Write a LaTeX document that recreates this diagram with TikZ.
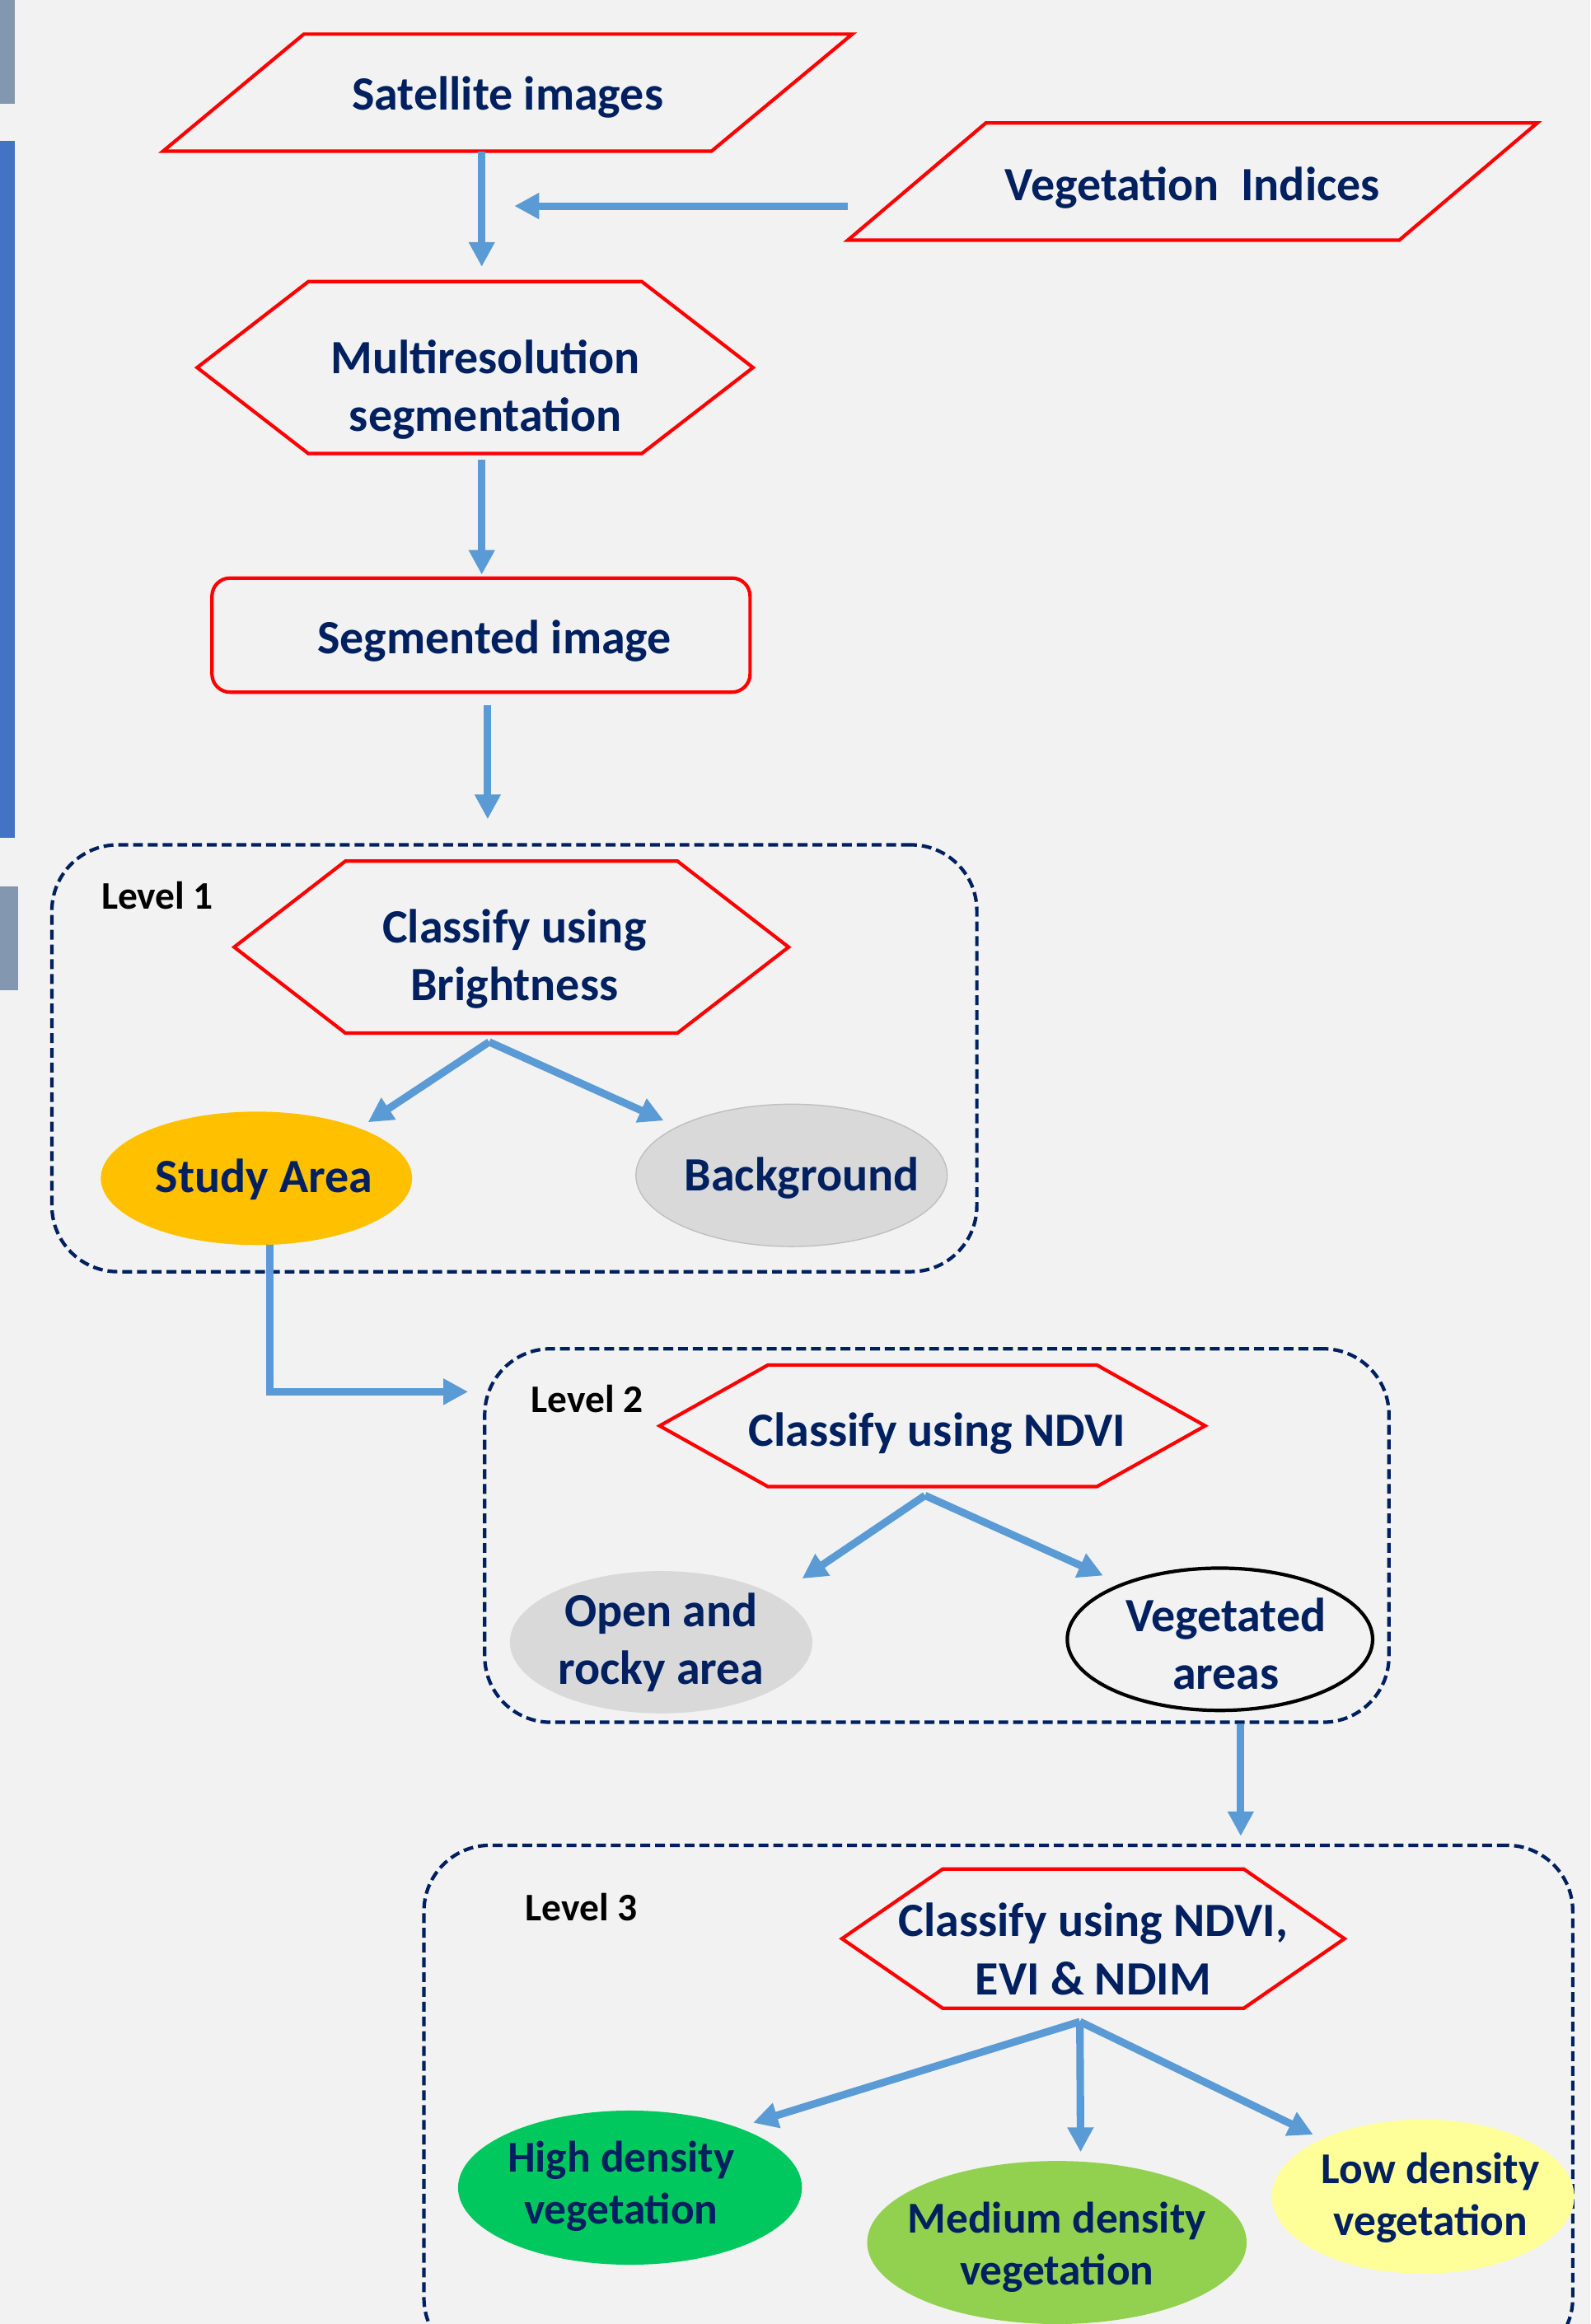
\documentclass[tikz,border=0pt]{standalone}
\usepackage{fontspec}
\setmainfont{Carlito}
\usepackage{tikz}
\usetikzlibrary{calc,shapes.geometric,arrows.meta}
\definecolor{navy}{HTML}{002060}
\definecolor{flowred}{HTML}{FF0000}
\definecolor{arrowblue}{HTML}{5B9BD5}
\definecolor{paper}{HTML}{F2F2F2}
\definecolor{slate}{HTML}{8497B0}
\definecolor{barblue}{HTML}{4472C4}
\definecolor{studygold}{HTML}{FFC000}
\definecolor{greyfill}{HTML}{D9D9D9}
\definecolor{greyline}{HTML}{BFBFBF}
\definecolor{highgreen}{HTML}{00C85F}
\definecolor{midgreen}{HTML}{92D050}
\definecolor{lowyellow}{HTML}{FFFF99}
\def\pxu{0.017987cm}
\def\hexagon(#1)(#2){\draw[redline] (#1.west) -- ($(#1.north west)+(#2,0)$) -- ($(#1.north east)-(#2,0)$) -- (#1.east) -- ($(#1.south east)-(#2,0)$) -- ($(#1.south west)+(#2,0)$) -- cycle;}
\def\slanted(#1)(#2){\draw[redline] (#1.south west) -- ($(#1.north west)+(#2,0)$) -- (#1.north east) -- ($(#1.south east)-(#2,0)$) -- cycle;}
\tikzset{
	every node/.style={font=\bfseries\fontsize{16.5}{20}\selectfont, text=navy, align=center},
	holder/.style={inner sep=0pt, outer sep=0pt},
	redline/.style={draw=flowred, line width=1.2pt, line join=miter},
	blob/.style={ellipse, inner sep=0pt, outer sep=0pt},
	smalltext/.style={font=\bfseries\fontsize{15.2}{18}\selectfont},
	levelbox/.style={draw=navy, line width=1.2pt, dash pattern=on 3.4pt off 1.7pt, rounded corners=0.8cm},
	leveltag/.style={anchor=west, inner sep=0pt, text=black, font=\bfseries\fontsize{13.5}{16}\selectfont},
	arr/.style={draw=arrowblue, line width=2.6pt, -{Triangle[length=0.3cm,width=0.3cm]}},
}
\begin{document}
\begin{tikzpicture}[x=\pxu, y=-\pxu]
			%%%%% START %%%%%
			
			\fill[paper] (0,0) rectangle (1073,1568);
			\useasboundingbox (0,0) rectangle (1073,1568);
			
			\fill[color=slate] (0,0) rectangle (10,70);
			\fill[color=barblue] (0,95) rectangle (10,565);
			\fill[color=slate] (0,598) rectangle (12,668);
			
			\node[levelbox, minimum width=624*\pxu, minimum height=288*\pxu] (lvl1) at (347,714) {};
			\node[levelbox, minimum width=610*\pxu, minimum height=252*\pxu] (lvl2) at (632,1036) {};
			\node[levelbox, minimum width=775*\pxu, minimum height=350*\pxu] (lvl3) at (673.5,1420) {};
			
			\node[holder, minimum width=465*\pxu, minimum height=79*\pxu] (sat) at (342.5,62.5) {};
			\slanted(sat)(95)
			\node (sattxt) at ($(sat)+(0,3)$) {Satellite images};
			\node[holder, minimum width=465*\pxu, minimum height=79*\pxu] (vi) at (804.5,122.5) {};
			\slanted(vi)(93)
			\node (vitxt) at ($(vi)+(0,4)$) {Vegetation\ \ Indices};
			\coordinate (mergept) at (347,139);
			
			\node[holder, minimum width=375*\pxu, minimum height=116*\pxu] (multi) at (320.5,248) {};
			\hexagon(multi)(75)
			\node (multitxt) at ($(multi)+(7,15)$) {Multiresolution\\segmentation};
			\node[holder, draw=flowred, line width=1.2pt, rounded corners=0.22cm, minimum width=363*\pxu, minimum height=77*\pxu] (seg) at (324.5,428.5) {};
			\node (segtxt) at ($(seg)+(9,4)$) {Segmented image};
			
			\node[leveltag] (tag1) at (68,604) {Level 1};
			\node[holder, minimum width=374*\pxu, minimum height=116*\pxu] (bright) at (345,639) {};
			\hexagon(bright)(75)
			\node (brighttxt) at ($(bright)+(2,8)$) {Classify using\\Brightness};
			\node[blob, fill=studygold, minimum width=210*\pxu, minimum height=90*\pxu] (study) at (173,795) {};
			\node (studytxt) at ($(study)+(5,1)$) {Study Area};
			\node[blob, fill=greyfill, draw=greyline, minimum width=210*\pxu, minimum height=96*\pxu] (bg) at (534,793) {};
			\node (bgtxt) at ($(bg)+(7,2)$) {Background};
			
			\node[leveltag] (tag2) at (358,944) {Level 2};
			\node[holder, minimum width=368*\pxu, minimum height=82*\pxu] (ndvi) at (629,962) {};
			\hexagon(ndvi)(73)
			\node (ndvitxt) at ($(ndvi)+(3,5)$) {Classify using NDVI};
			\node[blob, fill=greyfill, minimum width=204*\pxu, minimum height=96*\pxu] (open) at (446,1108) {};
			\node (opentxt) at (open) {Open and\\rocky area};
			\node[blob, draw=black, line width=1.2pt, minimum width=206*\pxu, minimum height=96*\pxu] (veg) at (823,1106) {};
			\node (vegtxt) at ($(veg)+(4,3)$) {Vegetated\\areas};
			
			\node[leveltag] (tag3) at (354,1287) {Level 3};
			\node[holder, minimum width=339*\pxu, minimum height=94*\pxu] (ndim) at (737.5,1308) {};
			\hexagon(ndim)(68)
			\node (ndimtxt) at ($(ndim)+(0,7)$) {Classify using NDVI,\\EVI \& NDIM};
			\node[blob, fill=highgreen, minimum width=232*\pxu, minimum height=104*\pxu] (high) at (425,1476) {};
			\node[smalltext] (hightxt) at ($(high)+(-6,-1)$) {High density\\vegetation};
			\node[blob, fill=midgreen, minimum width=256*\pxu, minimum height=110*\pxu] (med) at (713,1513) {};
			\node[smalltext] (medtxt) at ($(med)+(0,3)$) {Medium density\\vegetation};
			\node[blob, fill=lowyellow, minimum width=204*\pxu, minimum height=104*\pxu] (low) at (960,1482) {};
			\node[smalltext] (lowtxt) at ($(low)+(5,1)$) {Low density\\vegetation};
			
			\draw[arr, shorten >=0.18cm] ($(sat.south -| multi.north)+(4.5,0)$) -- ($(multi.north)+(4.5,0)$);
			\draw[arr] (mergept -| vi.west) -- (mergept);
			\draw[arr, shorten <=0.07cm, shorten >=0.04cm] ($(multi.south)+(4.5,0)$) -- ($(multi.south |- seg.north)+(4.5,0)$);
			\draw[arr, shorten <=0.16cm, shorten >=0.29cm] ($(seg.south)+(4.5,0)$) -- ($(seg.south |- lvl1.north)+(4.5,0)$);
			
			\coordinate (fork1) at ($(bright.south)+(-15,6)$);
			\draw[arr] (fork1) -- ($(study.north east)+(1,-6)$);
			\draw[arr] (fork1) -- ($(bg.north west)+(-12,-3)$);
			\draw[arr] ($(study.south)+(9,0)$) |- ($(lvl2.west)+(-10,-97)$);
			
			\coordinate (fork2) at ($(ndvi.south)+(-5,6)$);
			\draw[arr] (fork2) -- ($(open.north east)+(23,-9)$);
			\draw[arr] (fork2) -- ($(veg.north west)+(-6,-9)$);
			\draw[arr] ($(lvl2.south -| veg.south)+(14,0)$) -- ($(lvl3.north -| veg.south)+(14,-5)$);
			
			\coordinate (fork3) at ($(ndim.south)+(-9,9)$);
			\draw[arr] (fork3) -- ($(high.north east)+(1,-7)$);
			\draw[arr] (fork3) -- ($(med.north)+(16,-6)$);
			\draw[arr] (fork3) -- ($(low.north west)+(-2,-5)$);
			
			%%%%% END %%%%%
\end{tikzpicture}
\end{document}
